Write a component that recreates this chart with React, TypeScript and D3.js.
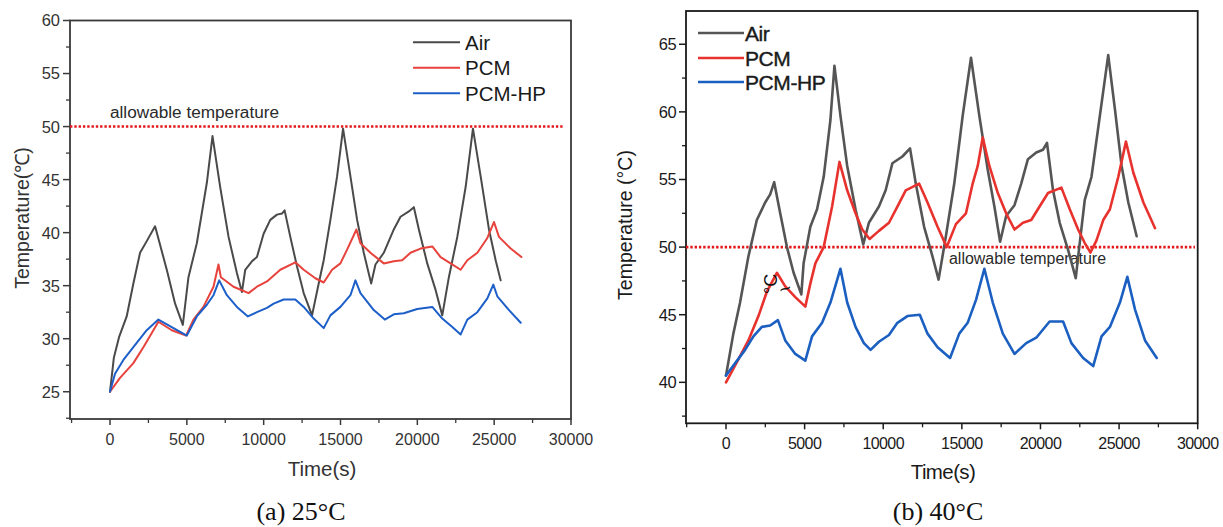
import React from "react";
import * as d3 from "d3";

type Pt = [number, number];

// ---------- (a) 25°C ----------
const leftAir: Pt[] = [[0,25],[250,28.2],[600,30.2],[1086,32.1],[1521,35.2],[1956,38.1],[2391,39.2],[2934,40.6],[3695,36.5],[4237,33.3],[4738,31.3],[5106,35.8],[5650,39.0],[6302,44.7],[6671,49.1],[7171,44.3],[7715,39.6],[8258,36.2],[8584,34.4],[8801,36.5],[9236,37.3],[9562,37.7],[9997,39.9],[10430,41.2],[10867,41.7],[11193,41.8],[11363,42.1],[11734,39.6],[12170,36.8],[12604,34.3],[13147,32.2],[13582,35.2],[13908,37.4],[14342,41.2],[14778,45.3],[15166,49.8],[15646,45.3],[16082,41.2],[16515,38.1],[16996,35.2],[17275,37.0],[17817,38.1],[18469,40.3],[18905,41.5],[19448,42.0],[19774,42.4],[20100,40.3],[20645,37.1],[21187,34.6],[21623,32.2],[22053,35.8],[22601,39.6],[23143,44.3],[23619,49.8],[24121,45.3],[24661,40.3],[25097,37.4],[25424,35.5]];
const leftPCM: Pt[] = [[0,25],[652,26.3],[1521,27.7],[2173,29.2],[3149,31.6],[4021,30.8],[4954,30.3],[5430,31.8],[6082,33.0],[6734,34.9],[7060,37.0],[7215,35.8],[8038,34.9],[9016,34.3],[9562,34.9],[10215,35.4],[11082,36.5],[12060,37.2],[12604,36.5],[13364,35.7],[13908,35.3],[14451,36.5],[14994,37.1],[15429,38.4],[16037,40.3],[16298,39.0],[16949,38.1],[17817,37.1],[18469,37.3],[19013,37.4],[19557,38.1],[20209,38.5],[20971,38.7],[21513,37.7],[22165,37.1],[22817,36.5],[23253,37.4],[23905,38.1],[24557,39.5],[24987,41.0],[25314,39.6],[26076,38.5],[26773,37.7]];
const leftPCMHP: Pt[] = [[0,25],[326,26.7],[870,28.0],[1738,29.6],[2391,30.8],[3149,31.8],[5000,30.3],[5650,32.1],[6302,33.2],[6734,34.1],[7106,35.5],[7606,34.1],[8258,33.0],[8975,32.1],[9562,32.5],[10215,32.9],[10650,33.3],[11302,33.7],[12060,33.7],[12604,33.0],[13256,31.9],[13908,31.0],[14342,32.2],[14994,33.0],[15646,34.1],[15972,35.5],[16298,34.3],[17165,32.7],[17882,31.8],[18469,32.3],[19121,32.4],[19992,32.8],[20971,33.0],[21623,31.9],[22275,31.1],[22817,30.4],[23253,31.8],[23905,32.5],[24557,33.8],[24944,35.1],[25205,34.0],[25966,32.7],[26728,31.5]];

// ---------- (b) 40°C ----------
const rightAir: Pt[] = [[0,40.5],[468,43.6],[894,45.9],[1424,49.3],[1960,52.0],[2491,53.3],[2810,53.9],[3065,54.8],[3448,52.5],[3876,50.0],[4300,48.1],[4790,46.5],[4936,48.8],[5364,51.5],[5792,52.8],[6214,55.2],[6641,59.4],[6897,63.4],[7280,59.7],[7708,56.0],[8238,52.8],[8729,50.2],[9088,51.8],[9726,53.0],[10154,54.2],[10582,56.2],[11220,56.7],[11705,57.3],[12070,54.7],[12600,51.5],[13136,49.3],[13520,47.6],[13985,50.8],[14517,54.7],[15052,59.7],[15582,64.0],[16112,59.7],[16649,55.7],[17070,53.0],[17433,50.4],[17817,52.3],[18347,53.1],[18775,54.7],[19202,56.5],[19732,57.0],[20160,57.2],[20416,57.7],[20799,54.2],[21224,51.8],[21756,49.8],[22243,47.7],[22497,50.3],[22819,53.5],[23245,55.2],[23777,59.7],[24309,64.2],[24735,60.2],[25160,56.0],[25588,53.3],[26118,50.8]];
const rightPCM: Pt[] = [[0,40.0],[786,41.7],[1424,43.1],[2063,44.9],[2599,46.7],[3237,48.1],[3768,47.1],[4406,46.3],[5045,45.6],[5364,47.3],[5683,48.8],[6214,50.0],[6748,53.0],[7216,56.3],[7708,54.2],[8238,52.5],[8667,51.3],[9133,50.6],[9726,51.2],[10365,51.8],[10900,53.0],[11431,54.2],[12280,54.7],[12817,53.3],[13455,51.5],[14040,50.0],[14624,51.7],[15262,52.5],[15689,54.7],[16010,56.0],[16329,58.1],[16751,56.0],[17287,54.0],[17817,52.5],[18347,51.3],[18884,51.8],[19414,52.0],[19944,53.0],[20480,54.0],[21330,54.4],[21863,52.8],[22396,51.3],[22819,50.3],[23181,49.6],[23564,50.5],[23992,52.0],[24416,52.8],[24951,55.2],[25436,57.8],[25908,55.5],[26547,53.3],[27288,51.4]];
const rightPCMHP: Pt[] = [[0,40.5],[575,41.4],[1213,42.4],[1744,43.4],[2280,44.1],[2810,44.2],[3301,44.6],[3768,43.1],[4406,42.1],[5045,41.6],[5472,43.4],[6111,44.4],[6641,45.9],[7280,48.4],[7708,45.9],[8238,44.1],[8768,42.9],[9196,42.4],[9726,43.0],[10365,43.5],[10900,44.4],[11539,44.9],[12325,45.0],[12817,43.6],[13455,42.6],[14250,41.8],[14836,43.6],[15369,44.4],[15901,46.1],[16431,48.4],[16967,45.9],[17606,43.6],[18347,42.1],[19094,42.9],[19732,43.3],[20582,44.5],[21438,44.5],[21968,42.9],[22715,41.8],[23354,41.2],[23884,43.4],[24416,44.1],[25054,45.9],[25525,47.8],[26010,45.4],[26649,43.1],[27396,41.8]];

const seriesNames = ["Air", "PCM", "PCM-HP"];
const xTicks = [0, 5000, 10000, 15000, 20000, 25000, 30000];
const xMinorTicks = [-2500, 2500, 7500, 12500, 17500, 22500, 27500];
const leftYTicks = [25, 30, 35, 40, 45, 50, 55, 60];
const leftYMinor = [22.5, 27.5, 32.5, 37.5, 42.5, 47.5, 52.5, 57.5];
const rightYTicks = [40, 45, 50, 55, 60, 65];
const rightYMinor = [37.5, 42.5, 47.5, 52.5, 57.5, 62.5];
const allowableTemp = 50;

interface PanelProps {
  box: { x0: number; x1: number; y0: number; y1: number };
  xDomain: [number, number];
  yDomain: [number, number];
  yTicks: number[];
  yMinor: number[];
  data: Pt[][];
  colors: string[];
  lineWidth: number;
  frameColor: string;
  textColor: string;
  yLabel: string;
  yLabelX: number;
  yLabelY: number;
  yLabelSize: number;
  xLabelY: number;
  xLabelX: number;
  caption: string;
  captionX: number;
  legend: { x0: number; x1: number; tx: number; ys: number[]; size: number; ls: number; heavy: number };
  allow: { x: number; y: number; len: number; size: number };
  dotEnd: number;
  condensed: number;
}

function Panel(p: PanelProps) {
  const { box } = p;
  const x = d3.scaleLinear().domain(p.xDomain).range([box.x0, box.x1]);
  const y = d3.scaleLinear().domain(p.yDomain).range([box.y1, box.y0]);
  const line = d3.line<Pt>().x((d) => x(d[0])).y((d) => y(d[1]));
  const font = "Liberation Sans, Arial, sans-serif";
  return (
    <g>
      <rect x={box.x0} y={box.y0} width={box.x1 - box.x0} height={box.y1 - box.y0} fill="none" stroke={p.frameColor} strokeWidth={1.8} />
      {p.yTicks.map((t) => (
        <g key={"y" + t}>
          <line x1={box.x0 - 7} x2={box.x0} y1={y(t)} y2={y(t)} stroke={p.frameColor} strokeWidth={1.5} />
          <text x={box.x0 - 10} y={y(t)} dy="0.36em" textAnchor="end" fontSize={16.5} fontFamily={font} fill={p.textColor} letterSpacing={p.condensed}>{t}</text>
        </g>
      ))}
      {p.yMinor.map((t) => (
        <line key={"ym" + t} x1={box.x0 - 4} x2={box.x0} y1={y(t)} y2={y(t)} stroke={p.frameColor} strokeWidth={1.3} />
      ))}
      {xTicks.map((t) => (
        <g key={"x" + t}>
          <line x1={x(t)} x2={x(t)} y1={box.y1} y2={box.y1 + 6} stroke={p.frameColor} strokeWidth={1.5} />
          <text x={x(t)} y={box.y1 + 26} textAnchor="middle" fontSize={16} fontFamily={font} fill={p.textColor} letterSpacing={p.condensed}>{t}</text>
        </g>
      ))}
      {xMinorTicks.map((t) => (
        <line key={"xm" + t} x1={x(t)} x2={x(t)} y1={box.y1} y2={box.y1 + 4} stroke={p.frameColor} strokeWidth={1.3} />
      ))}
      <line x1={box.x0} x2={p.dotEnd} y1={y(allowableTemp)} y2={y(allowableTemp)} stroke="#e3191c" strokeWidth={2.6} strokeDasharray="2.4 1.9" />
      <text x={p.allow.x} y={p.allow.y} fontSize={p.allow.size} fontFamily={font} fill="#2a2a2a" textLength={p.allow.len} lengthAdjust="spacingAndGlyphs">allowable temperature</text>
      {p.data.map((d, i) => (
        <path key={"s" + i} d={line(d) || ""} fill="none" stroke={p.colors[i]} strokeWidth={p.lineWidth} strokeLinejoin="round" strokeLinecap="round" />
      ))}
      {seriesNames.map((n, i) => (
        <g key={"l" + n}>
          <line x1={p.legend.x0} x2={p.legend.x1} y1={p.legend.ys[i]} y2={p.legend.ys[i]} stroke={p.colors[i]} strokeWidth={p.lineWidth} />
          <text x={p.legend.tx} y={p.legend.ys[i]} dy="0.36em" fontSize={p.legend.size} fontFamily={font} fill="#1a1a1a" stroke="#1a1a1a" strokeWidth={p.legend.heavy} letterSpacing={p.legend.ls}>{n}</text>
        </g>
      ))}
      <text transform={`translate(${p.yLabelX},${p.yLabelY}) rotate(-90)`} textAnchor="middle" fontSize={p.yLabelSize} fontFamily={font} fill={p.textColor}>{p.yLabel}</text>
      <text x={p.xLabelX} y={p.xLabelY} textAnchor="middle" fontSize={20.5} fontFamily={font} fill={p.textColor} letterSpacing={p.condensed}>Time(s)</text>
      <text x={p.captionX} y={520} textAnchor="middle" fontSize={26} fontFamily="Liberation Serif, Times New Roman, serif" fill="#111">{p.caption}</text>
    </g>
  );
}

export default function App() {
  return (
    <svg width={1223} height={527} viewBox="0 0 1223 527" style={{ position: "absolute", left: 0, top: 0, background: "#fff" }}>
      <rect x={0} y={0} width={1223} height={527} fill="#fff" />
      <Panel
        box={{ x0: 70, x1: 571, y0: 20.5, y1: 419 }}
        xDomain={[-2603, 30000]}
        yDomain={[22.43, 60]}
        yTicks={leftYTicks}
        yMinor={leftYMinor}
        data={[leftAir, leftPCM, leftPCMHP]}
        colors={["#4a4a4a", "#e8423c", "#1d5fc9"]}
        lineWidth={2}
        frameColor="#3a3a3a"
        textColor="#333"
        yLabel="Temperature(℃)"
        yLabelX={29}
        yLabelY={218}
        yLabelSize={19.5}
        xLabelY={476}
        xLabelX={322}
        caption="(a) 25°C"
        captionX={301}
        legend={{ x0: 413, x1: 460, tx: 465, ys: [42.3, 67.7, 93.3], size: 20.5, ls: 0, heavy: 0 }}
        allow={{ x: 110, y: 118, len: 169, size: 16 }}
        dotEnd={564}
        condensed={0}
      />
      <Panel
        box={{ x0: 686, x1: 1197.7, y0: 11, y1: 423.3 }}
        xDomain={[-2544, 30000]}
        yDomain={[36.97, 67.46]}
        yTicks={rightYTicks}
        yMinor={rightYMinor}
        data={[rightAir, rightPCM, rightPCMHP]}
        colors={["#555555", "#e8322e", "#1b5fc1"]}
        lineWidth={2.6}
        frameColor="#1a1a1a"
        textColor="#1a1a1a"
        yLabel="Temperature (°C)"
        yLabelX={632}
        yLabelY={225}
        yLabelSize={19.5}
        xLabelY={479}
        xLabelX={943}
        caption="(b) 40°C"
        captionX={938}
        legend={{ x0: 698, x1: 744, tx: 745, ys: [33, 58, 82], size: 21, ls: -0.4, heavy: 0.4 }}
        allow={{ x: 949, y: 264, len: 157, size: 16 }}
        dotEnd={1195}
        condensed={-0.6}
      />
      <text transform="translate(777,294) rotate(-90)" fontSize={18} fontFamily="Liberation Sans, Arial, sans-serif" fill="#111">°C</text>
      <text transform="translate(782,297) rotate(-20)" fontSize={20} fontFamily="Liberation Sans, Arial, sans-serif" fill="#111">~</text>
    </svg>
  );
}
